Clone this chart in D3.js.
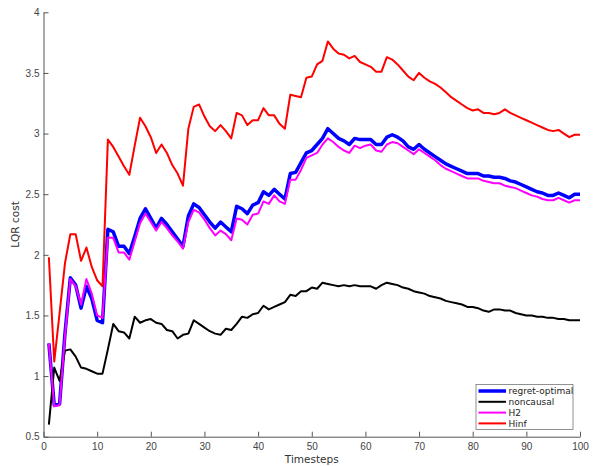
<!DOCTYPE html>
<html>
<head>
<meta charset="utf-8">
<script src="https://cdn.jsdelivr.net/npm/d3@7"></script>
<style>
  body { margin: 0; background: #fff; }
  svg { font-family: "DejaVu Sans", sans-serif; }
</style>
</head>
<body>
<svg id="chart" width="597" height="466"></svg>
<script>
var seriesNames = ['regret-optimal', 'noncausal', 'H2', 'Hinf'];
var seriesColors = ['#0000ff', '#000000', '#ff00ff', '#ff0000'];
var seriesWidths = [3.5, 2, 2, 2];
var xTicks = [0, 10, 20, 30, 40, 50, 60, 70, 80, 90, 100];
var yTicks = [0.5, 1, 1.5, 2, 2.5, 3, 3.5, 4];

var regretOptimal = [1.27, 0.76, 0.77, 1.35, 1.81, 1.75, 1.56, 1.74, 1.64, 1.46,
    1.44, 2.21, 2.19, 2.07, 2.07, 2.01, 2.15, 2.30, 2.38, 2.30,
    2.22, 2.30, 2.25, 2.19, 2.13, 2.07, 2.32, 2.42, 2.39, 2.33,
    2.27, 2.22, 2.27, 2.23, 2.19, 2.40, 2.38, 2.34, 2.41, 2.43,
    2.52, 2.49, 2.54, 2.50, 2.46, 2.67, 2.68, 2.76, 2.84, 2.86,
    2.91, 2.96, 3.04, 3.00, 2.96, 2.94, 2.91, 2.96, 2.95, 2.95,
    2.95, 2.91, 2.91, 2.97, 2.99, 2.97, 2.94, 2.89, 2.87, 2.91,
    2.87, 2.84, 2.81, 2.78, 2.75, 2.73, 2.71, 2.69, 2.67, 2.67,
    2.67, 2.65, 2.65, 2.64, 2.64, 2.63, 2.61, 2.60, 2.58, 2.56,
    2.54, 2.52, 2.51, 2.49, 2.49, 2.51, 2.49, 2.47, 2.50, 2.50];
var noncausal = [0.60, 1.07, 0.96, 1.21, 1.22, 1.16, 1.07, 1.06, 1.04, 1.02,
    1.02, 1.22, 1.43, 1.37, 1.36, 1.31, 1.49, 1.44, 1.46, 1.47,
    1.44, 1.43, 1.38, 1.37, 1.31, 1.34, 1.35, 1.46, 1.43, 1.40,
    1.37, 1.35, 1.34, 1.39, 1.38, 1.43, 1.49, 1.48, 1.51, 1.52,
    1.58, 1.55, 1.57, 1.59, 1.61, 1.67, 1.66, 1.70, 1.70, 1.73,
    1.72, 1.77, 1.76, 1.75, 1.74, 1.75, 1.74, 1.75, 1.74, 1.74,
    1.74, 1.72, 1.75, 1.77, 1.76, 1.75, 1.73, 1.72, 1.70, 1.69,
    1.68, 1.66, 1.65, 1.64, 1.62, 1.61, 1.60, 1.59, 1.57, 1.57,
    1.56, 1.54, 1.53, 1.55, 1.55, 1.54, 1.54, 1.52, 1.51, 1.50,
    1.50, 1.49, 1.49, 1.48, 1.48, 1.47, 1.47, 1.46, 1.46, 1.46];
var h2 = [1.27, 0.75, 0.76, 1.33, 1.80, 1.74, 1.59, 1.80, 1.68, 1.50,
    1.48, 2.14, 2.14, 2.02, 2.02, 1.96, 2.11, 2.26, 2.34, 2.27,
    2.20, 2.27, 2.22, 2.16, 2.11, 2.05, 2.27, 2.37, 2.35, 2.29,
    2.22, 2.16, 2.20, 2.17, 2.12, 2.30, 2.29, 2.25, 2.33, 2.34,
    2.44, 2.42, 2.49, 2.44, 2.42, 2.62, 2.62, 2.70, 2.80, 2.82,
    2.84, 2.91, 2.96, 2.93, 2.89, 2.86, 2.84, 2.90, 2.88, 2.90,
    2.91, 2.86, 2.85, 2.91, 2.93, 2.92, 2.89, 2.86, 2.83, 2.87,
    2.84, 2.81, 2.78, 2.74, 2.71, 2.69, 2.67, 2.65, 2.63, 2.63,
    2.63, 2.61, 2.60, 2.59, 2.59, 2.57, 2.56, 2.55, 2.53, 2.51,
    2.49, 2.48, 2.46, 2.45, 2.45, 2.47, 2.45, 2.43, 2.45, 2.45];
var hinf = [1.98, 1.12, 1.52, 1.93, 2.17, 2.17, 1.95, 2.06, 1.90, 1.79,
    1.74, 2.95, 2.89, 2.81, 2.73, 2.66, 2.90, 3.13, 3.06, 2.97,
    2.84, 2.91, 2.84, 2.74, 2.67, 2.57, 3.04, 3.22, 3.24, 3.14,
    3.06, 3.02, 3.07, 3.02, 2.96, 3.17, 3.15, 3.07, 3.11, 3.11,
    3.21, 3.15, 3.15, 3.08, 3.04, 3.32, 3.31, 3.30, 3.46, 3.47,
    3.57, 3.60, 3.76, 3.70, 3.66, 3.65, 3.62, 3.64, 3.59, 3.57,
    3.55, 3.51, 3.51, 3.63, 3.61, 3.57, 3.52, 3.47, 3.44, 3.50,
    3.46, 3.43, 3.41, 3.38, 3.34, 3.30, 3.27, 3.24, 3.21, 3.19,
    3.20, 3.17, 3.17, 3.16, 3.17, 3.20, 3.17, 3.15, 3.13, 3.11,
    3.09, 3.07, 3.05, 3.03, 3.02, 3.03, 3.00, 2.97, 2.99, 2.99];

(function (d3) {
    'use strict';

    var svg = d3.select('#chart'),
        left = 43.5,
        right = 580,
        top = 12.3,
        bottom = 436.7,
        axisColor = '#555',
        x = d3.scaleLinear().domain([0, 100]).range([left, right]),
        y = d3.scaleLinear().domain([0.5, 4]).range([bottom, top]),
        allSeries = [regretOptimal, noncausal, h2, hinf],
        line = d3.line()
            .x(function (d, i) { return x(i + 1); })
            .y(function (d) { return y(d); });

    // axes: ticks point inward, no box
    var xAxis = svg.append('g')
        .attr('transform', 'translate(0,' + bottom + ')')
        .call(d3.axisBottom(x).tickValues(xTicks).tickSizeInner(-5).tickSizeOuter(0).tickPadding(6));
    var yAxis = svg.append('g')
        .attr('transform', 'translate(' + left + ',0)')
        .call(d3.axisLeft(y).tickValues(yTicks).tickFormat(d3.format('')).tickSizeInner(-5).tickSizeOuter(0).tickPadding(4));
    [xAxis, yAxis].forEach(function (g) {
        g.select('.domain').attr('stroke', axisColor);
        g.selectAll('.tick line').attr('stroke', axisColor);
        g.selectAll('.tick text').attr('fill', '#444').attr('font-size', 10);
    });

    svg.append('text')
        .attr('x', (left + right) / 2)
        .attr('y', 463)
        .attr('text-anchor', 'middle')
        .attr('font-size', 10.5)
        .attr('fill', '#333')
        .text('Timesteps');
    svg.append('text')
        .attr('transform', 'translate(19,' + (top + bottom) / 2 + ') rotate(-90)')
        .attr('text-anchor', 'middle')
        .attr('font-size', 10.5)
        .attr('fill', '#333')
        .text('LQR cost');

    allSeries.forEach(function (values, k) {
        svg.append('path')
            .datum(values)
            .attr('fill', 'none')
            .attr('stroke', seriesColors[k])
            .attr('stroke-width', seriesWidths[k])
            .attr('stroke-linejoin', 'round')
            .attr('d', line);
    });

    // legend
    var legend = svg.append('g').attr('transform', 'translate(476,384.5)');
    legend.append('rect')
        .attr('width', 97)
        .attr('height', 45)
        .attr('fill', '#fff')
        .attr('stroke', '#777')
        .attr('stroke-width', 0.8);
    seriesNames.forEach(function (name, k) {
        var ly = 6.5 + k * 10.8;
        legend.append('line')
            .attr('x1', 2.5).attr('x2', 30)
            .attr('y1', ly).attr('y2', ly)
            .attr('stroke', seriesColors[k])
            .attr('stroke-width', seriesWidths[k]);
        legend.append('text')
            .attr('x', 32.5)
            .attr('y', ly + 3.3)
            .attr('font-size', 9)
            .attr('fill', '#222')
            .text(name);
    });
}(window.d3));
</script>
</body>
</html>
